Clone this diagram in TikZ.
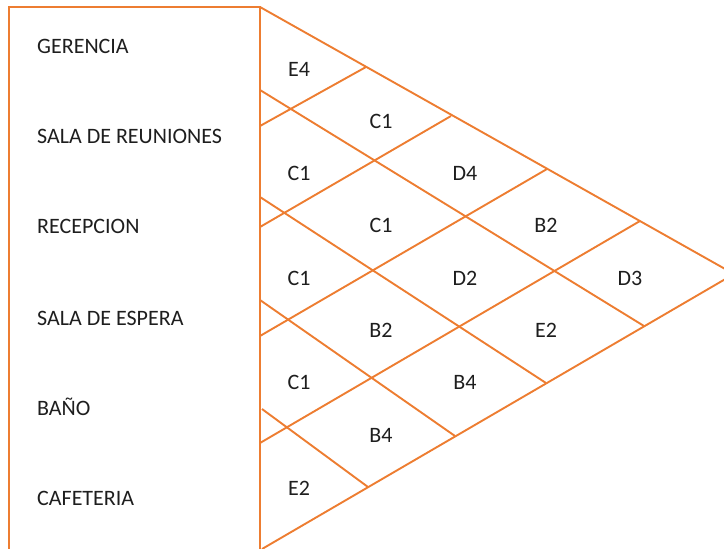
\documentclass[tikz,border=0pt]{standalone}
\usepackage{fontspec}
\setmainfont{Carlito}
\usepackage{tikz}
\definecolor{naranja}{RGB}{237,125,49}
\definecolor{texto}{RGB}{30,30,30}

\begin{document}
\begin{tikzpicture}[line join=miter,x=1pt,y=-1pt,
  linea/.style={line width=1.9pt,color=naranja},
  area/.style={anchor=base west,text=texto,inner sep=0pt,font=\fontsize{22}{24}\selectfont},
  rel/.style={anchor=base,text=texto,inner sep=0pt,font=\fontsize{22}{24}\selectfont}]
\useasboundingbox (0,0) rectangle (724,549);
\clip (0,0) rectangle (724,549);
% puntos del triangulo
\coordinate (l0) at (260,7);
\coordinate (l6) at (262,549);
\coordinate (tip) at (734,274);
\coordinate (a1) at (260,90);
\coordinate (a2) at (260,197);
\coordinate (a3) at (260,300);
\coordinate (a4) at (262,409);
\coordinate (b1) at (260,126);
\coordinate (b2) at (260,227);
\coordinate (b3) at (260,336);
\coordinate (b4) at (260,443);
\coordinate (t1) at (366,67);
\coordinate (t2) at (451,116);
\coordinate (t3) at (547,169);
\coordinate (t4) at (640,221);
\coordinate (d1) at (644,326);
\coordinate (d2) at (546,383);
\coordinate (d3) at (455,436);
\coordinate (d4) at (368,487);
% caja de areas
\draw [linea] (9,560) -- (9,7) -- (260,7) -- (260,560);
% triangulo
\draw [linea] (l0) -- (tip) -- (l6);
\draw [linea] (a1) -- (d1);
\draw [linea] (a2) -- (d2);
\draw [linea] (a3) -- (d3);
\draw [linea] (a4) -- (d4);
\draw [linea] (b1) -- (t1);
\draw [linea] (b2) -- (t2);
\draw [linea] (b3) -- (t3);
\draw [linea] (b4) -- (t4);
% areas
\node [area] (ger) at (37,53) {GERENCIA};
\node [area] (reu) at (37,143) {SALA DE REUNIONES};
\node [area] (rec) at (37,233) {RECEPCION};
\node [area] (esp) at (37,325) {SALA DE ESPERA};
\node [area] (ban) at (37,415) {BAÑO};
\node [area] (caf) at (37,505) {CAFETERIA};
% relaciones
\node [rel] (r12) at (299,76) {E4};
\node [rel] (r23) at (299,180) {C1};
\node [rel] (r34) at (299,285) {C1};
\node [rel] (r45) at (299,389) {C1};
\node [rel] (r56) at (299,495) {E2};
\node [rel] (r13) at (381,128) {C1};
\node [rel] (r24) at (381,232) {C1};
\node [rel] (r35) at (381,337) {B2};
\node [rel] (r46) at (381,442) {B4};
\node [rel] (r14) at (465,180) {D4};
\node [rel] (r25) at (465,285) {D2};
\node [rel] (r36) at (465,389) {B4};
\node [rel] (r15) at (546,232) {B2};
\node [rel] (r26) at (546,337) {E2};
\node [rel] (r16) at (630,285) {D3};
\end{tikzpicture}
\end{document}
